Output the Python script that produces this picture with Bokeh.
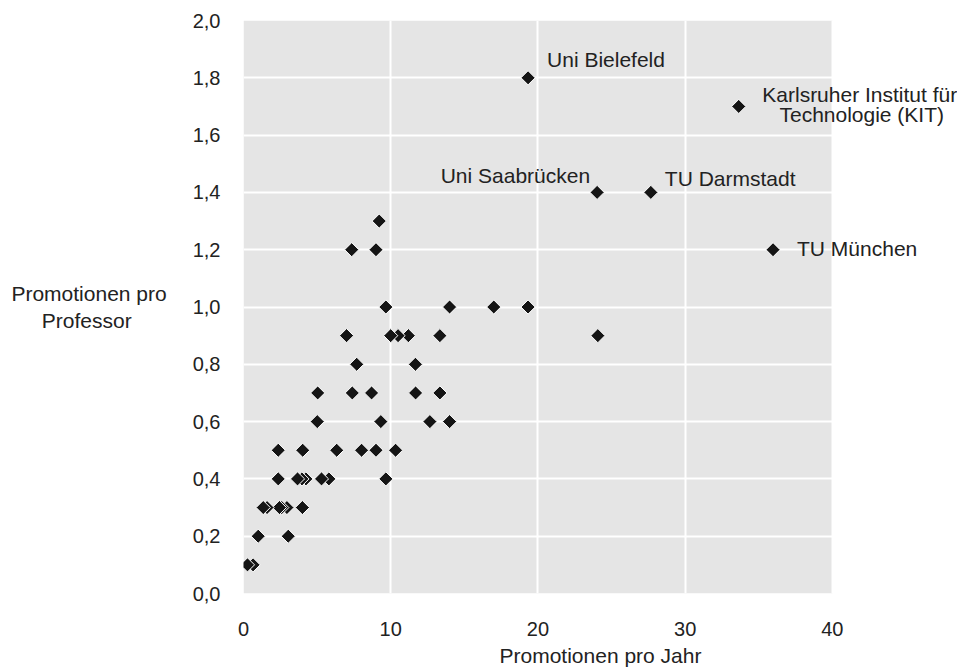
import numpy as np
from bokeh.plotting import figure
from bokeh.models import Label, FixedTicker
from bokeh.embed import file_html
from bokeh.resources import INLINE

# ---- data ----
promotionen_pro_jahr = [
    19.33, 33.64, 24.02, 27.67, 35.97,
    9.22, 7.35, 9.0,
    9.67, 14.0, 17.0, 19.33,
    7.0, 10.0, 10.5, 11.2, 13.34, 24.07,
    7.69, 11.68,
    5.04, 7.39, 8.7, 11.69, 13.34,
    5.01, 9.33, 12.66, 14.0,
    2.36, 4.02, 6.33, 8.02, 9.0, 10.33,
    2.36, 3.67, 3.97, 4.24, 5.3, 5.8, 9.67,
    1.34, 1.6, 2.44, 2.6, 2.95, 4.0,
    1.0, 3.04,
    0.27, 0.65,
]
promotionen_pro_professor = [
    1.8, 1.7, 1.4, 1.4, 1.2,
    1.3, 1.2, 1.2,
    1.0, 1.0, 1.0, 1.0,
    0.9, 0.9, 0.9, 0.9, 0.9, 0.9,
    0.8, 0.8,
    0.7, 0.7, 0.7, 0.7, 0.7,
    0.6, 0.6, 0.6, 0.6,
    0.5, 0.5, 0.5, 0.5, 0.5, 0.5,
    0.4, 0.4, 0.4, 0.4, 0.4, 0.4, 0.4,
    0.3, 0.3, 0.3, 0.3, 0.3, 0.3,
    0.2, 0.2,
    0.1, 0.1,
]

x_ticks = [0, 10, 20, 30, 40]
x_tick_labels = ["0", "10", "20", "30", "40"]
y_ticks = [0.0, 0.2, 0.4, 0.6, 0.8, 1.0, 1.2, 1.4, 1.6, 1.8, 2.0]
y_tick_labels = ["0,0", "0,2", "0,4", "0,6", "0,8", "1,0", "1,2", "1,4", "1,6", "1,8", "2,0"]

x_title = "Promotionen pro Jahr"
y_title_lines = ["Promotionen pro", "Professor"]

# labelled universities (text lines, point they refer to)
label_texts = ["Uni Bielefeld", "Karlsruher Institut für", "Technologie (KIT)",
               "Uni Saabrücken", "TU Darmstadt", "TU München"]
label_x = [19.33, 33.64, 33.64, 24.02, 27.67, 35.97]
label_y = [1.8, 1.7, 1.7, 1.4, 1.4, 1.2]

# ---- styling / placement (not data) ----
label_dx = [19, 121, 123, -7, 14, 24]
label_dy = [18, 12, -8, 17, 14, 1]
label_align = ["left", "center", "center", "right", "left", "left"]

FONT = "Liberation Sans"
TXT = "#222222"
GREY = "#e5e5e5"
X_VIEW_MAX = 48.5   # frame runs past the plot area so right-hand labels are not clipped
NBSP_PAD = "\u00a0" * 6  # centres the second title line under the first (label is right-aligned)

p = figure(
    frame_width=714, frame_height=573,
    x_range=(0, X_VIEW_MAX), y_range=(0, 2.0),
    output_backend="svg", toolbar_location=None,
    min_border_left=243, min_border_right=0, min_border_top=20, min_border_bottom=60,
    background_fill_color="white", border_fill_color="white",
    outline_line_color=None,
)

# grey plot area behind the grid
p.quad(left=x_ticks[0], right=x_ticks[-1], bottom=y_ticks[0], top=y_ticks[-1],
       fill_color=GREY, line_color=None, level="underlay")

p.xaxis.ticker = FixedTicker(ticks=x_ticks)
p.yaxis.ticker = FixedTicker(ticks=y_ticks)
p.xaxis.major_label_overrides = {t: l for t, l in zip(x_ticks, x_tick_labels)}
p.yaxis.major_label_overrides = {t: l for t, l in zip(y_ticks, y_tick_labels)}

for ax in (p.xaxis, p.yaxis):
    ax.axis_line_color = None
    ax.major_tick_line_color = None
    ax.minor_tick_line_color = None
    ax.major_tick_in = 0
    ax.major_tick_out = 0
    ax.minor_tick_in = 0
    ax.minor_tick_out = 0
    ax.major_label_text_font = FONT
    ax.major_label_text_font_size = "20px"
    ax.major_label_text_color = TXT
    ax.axis_label_text_font = FONT
    ax.axis_label_text_font_size = "21px"
    ax.axis_label_text_font_style = "normal"
    ax.axis_label_text_color = TXT

p.yaxis.major_label_standoff = 23
p.xaxis.major_label_standoff = 28
p.xaxis.axis_label = x_title
p.xaxis.axis_label_standoff = 5

p.yaxis.axis_label = y_title_lines[0] + "\n" + y_title_lines[1] + NBSP_PAD
p.yaxis.axis_label_standoff = 23
try:
    p.yaxis.axis_label_orientation = "horizontal"
except Exception:
    pass

p.xgrid.grid_line_color = "white"
p.ygrid.grid_line_color = "white"
p.xgrid.grid_line_width = 2
p.ygrid.grid_line_width = 2

# draw right-to-left so left diamonds sit on top of overlapping right ones
order = np.argsort(-np.array(promotionen_pro_jahr), kind="stable")
xs = [promotionen_pro_jahr[i] for i in order]
ys = [promotionen_pro_professor[i] for i in order]
p.scatter(xs, ys, marker="square", angle=np.pi / 4, size=10,
          fill_color="#151515", line_color="white", line_width=1)

for t, lx, ly, dx, dy, al in zip(label_texts, label_x, label_y, label_dx, label_dy, label_align):
    p.add_layout(Label(x=lx, y=ly, x_offset=dx, y_offset=dy, text=t,
                       text_font=FONT, text_font_size="21px", text_color=TXT,
                       text_align=al, text_baseline="alphabetic"))

open("out.html", "w").write(file_html(p, INLINE))
